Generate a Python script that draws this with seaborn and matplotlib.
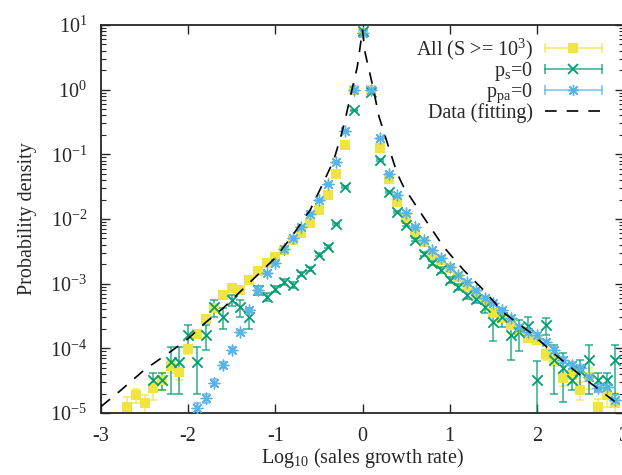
import numpy as np
import pandas as pd
import matplotlib
matplotlib.use('Agg')
import matplotlib.pyplot as plt
import seaborn as sns
from matplotlib.lines import Line2D
from matplotlib.legend_handler import HandlerBase
from matplotlib.ticker import LogLocator, NullFormatter, FixedLocator

# 数据：log10(增长率) 分箱，共用一组 x
bins = np.round(np.arange(-27, 30) / 10, 1)
nan = np.nan

# All (S >= 10^3)，log10 概率密度
all_log = [-4.90, -4.72, -4.84, -4.61, -4.49, -4.28, -4.36, -4.01,
           -3.78, -3.55, -3.37, -3.17, -3.07, -3.10, -2.95, -2.81, -2.68, -2.59,
           -2.48, -2.32, -2.21, -2.06, -1.86, -1.63, -1.30, -0.86, 0.00,
           0.88,
           0.00, -0.90, -1.38, -1.74, -1.98, -2.20, -2.35, -2.55, -2.63,
           -2.76, -2.89, -3.05, -3.17, -3.25, -3.45, -3.53, -3.64, -3.71, -3.84,
           -3.87, -4.09, -4.18, -4.46, -4.41, -4.64, -4.44, -4.90, -4.72, -4.84]
all_err = [0.4, 0.25, 0.3, 0.35, 0.3, 0.2, 0.25, 0.15,
           0.1, 0.1, 0.08, 0.06, 0.05, 0.05, 0.04, 0.04, 0.03, 0.03,
           0.02, 0.02, 0.02, 0.02, 0.02, 0.02, 0.02, 0.02, 0.02,
           0.01,
           0.02, 0.02, 0.02, 0.02, 0.02, 0.02, 0.02, 0.02, 0.02,
           0.03, 0.03, 0.04, 0.04, 0.05, 0.06, 0.06, 0.08, 0.1, 0.1,
           0.15, 0.2, 0.2, 0.25, 0.25, 0.3, 0.35, 0.3, 0.35, 0.4]

# p_s = 0
ps_log = [nan, nan, nan, -4.49, -4.49, -4.21, -4.21, -3.79,
          -4.21, -3.79, -3.36, -3.51, -3.25, -3.36, -3.51, -3.10, -3.20, -3.08,
          -2.97, -3.02, -2.85, -2.77, -2.55, -2.43, -2.08, -1.50, -0.32,
          0.90,
          -0.04, -1.09, -1.58, -1.89, -2.09, -2.32, -2.54, -2.68, -2.79,
          -2.94, -3.05, -3.17, -3.23, -3.36, -3.59, -3.51, -3.79, -3.74, -3.65,
          -4.49, -3.64, -4.18, -4.30, -4.49, -4.35, -4.18, -4.49, -4.49, -4.18]
ps_err = [nan, nan, nan, 0.3, 0.3, 0.68, 0.68, 0.42,
          0.68, 0.42, 0.3, 0.35, 0.2, 0.3, 0.35, 0.15, 0.15, 0.12,
          0.1, 0.1, 0.08, 0.08, 0.06, 0.05, 0.04, 0.03, 0.02,
          0.01,
          0.02, 0.03, 0.04, 0.05, 0.05, 0.06, 0.08, 0.08, 0.1,
          0.1, 0.12, 0.15, 0.15, 0.2, 0.5, 0.3, 0.6, 0.5, 0.35,
          0.95, 0.3, 0.7, 0.7, 0.3, 0.5, 0.7, 0.3, 0.3, 0.7]

# p_pa = 0
ppa_log = [nan, nan, nan, nan, nan, nan, nan, nan,
           -4.92, -4.77, -4.53, -4.26, -4.02, -3.74, -3.41, -3.10, -2.84, -2.68,
           -2.47, -2.29, -2.12, -1.92, -1.71, -1.46, -1.12, -0.64, 0.00,
           0.88,
           0.00, -0.75, -1.30, -1.63, -1.91, -2.12, -2.32, -2.48, -2.60,
           -2.74, -2.87, -2.97, -3.10, -3.22, -3.30, -3.40, -3.53, -3.67, -3.75,
           -3.79, -3.90, -4.02, -4.18, -4.26, -4.30, -4.44, -4.61, -4.60, -4.80]
ppa_err = [nan, nan, nan, nan, nan, nan, nan, nan,
           0.2, 0.15, 0.12, 0.1, 0.08, 0.06, 0.05, 0.05, 0.04, 0.04,
           0.03, 0.02, 0.02, 0.02, 0.02, 0.02, 0.02, 0.02, 0.02,
           0.01,
           0.02, 0.02, 0.02, 0.02, 0.02, 0.02, 0.02, 0.02, 0.02,
           0.03, 0.03, 0.03, 0.04, 0.04, 0.05, 0.05, 0.06, 0.06, 0.07,
           0.08, 0.08, 0.1, 0.1, 0.12, 0.12, 0.15, 0.15, 0.15, 0.2]

# 拟合曲线（从图上读取的节点）
fit_x = [-3.0, -2.8, -2.5, -2.2, -2.0, -1.8, -1.6, -1.4, -1.2, -1.0, -0.8,
         -0.6, -0.45, -0.33, -0.25, -0.2, -0.14, -0.06, 0.0, 0.03, 0.11,
         0.19, 0.3, 0.4, 0.47, 0.7, 0.93, 1.16, 1.39, 1.62, 1.93, 2.24,
         2.54, 2.95]
fit_log = [-4.90, -4.68, -4.33, -4.05, -3.85, -3.60, -3.38, -3.12, -2.86,
           -2.60, -2.25, -1.86, -1.44, -1.09, -0.73, -0.47, -0.11, 0.35,
           0.92, 0.57, 0.10, -0.42, -0.89, -1.30, -1.50, -1.97, -2.43,
           -2.79, -3.10, -3.45, -3.76, -4.13, -4.46, -4.88]

FS = 14.5

sns.set_style('ticks')
plt.rcParams['font.family'] = ['Liberation Serif', 'DejaVu Serif']
plt.rcParams['mathtext.default'] = 'regular'
plt.rcParams['axes.unicode_minus'] = False
plt.rcParams['xtick.direction'] = 'in'
plt.rcParams['ytick.direction'] = 'in'
plt.rcParams['xtick.top'] = True
plt.rcParams['ytick.right'] = True

fig = plt.figure(figsize=(6.22, 4.75), dpi=100)
ax = fig.add_axes([101 / 622, 1 - 413 / 475, 523 / 622, 388 / 475])

series = [
    ('All (S >= 10$^3$)', all_log, all_err, '#F0E442', 's', 55, 0),
    ('$p_{s}$=0', ps_log, ps_err, '#009E73', 'x', 55, 1.3),
    ('$p_{pa}$=0', ppa_log, ppa_err, '#56B4E9', (8, 2, 0), 60, 1.0),
]

for label, logv, rel, color, marker, size, lw in series:
    df = pd.DataFrame({'x': bins, 'p': 10 ** np.array(logv), 'rel': rel}).dropna()
    ax.errorbar(df['x'], df['p'], yerr=df['p'] * df['rel'], fmt='none',
                ecolor=color, alpha=0.75, elinewidth=1.2, capsize=3, capthick=1.2)
    if marker == 's':
        sns.scatterplot(data=df, x='x', y='p', ax=ax, color=color, marker=marker,
                        s=size, linewidth=0, legend=False, zorder=3)
    else:
        sns.scatterplot(data=df, x='x', y='p', ax=ax, color=color, marker=marker,
                        s=size, linewidth=lw, edgecolor=color, legend=False, zorder=3)

fit_df = pd.DataFrame({'x': fit_x, 'p': 10 ** np.array(fit_log)})
sns.lineplot(data=fit_df, x='x', y='p', ax=ax, color='black', lw=1.2,
             dashes=False, sort=False, zorder=4).lines[-1].set_dashes((7, 6))

ax.set_yscale('log')
ax.set_xlim(-3, 3)
ax.set_ylim(1e-5, 10)
ax.xaxis.set_major_locator(FixedLocator([-3, -2, -1, 0, 1, 2, 3]))
ax.yaxis.set_major_locator(LogLocator(base=10, numticks=10))
ax.yaxis.set_minor_locator(LogLocator(base=10, subs=np.arange(2, 10), numticks=10))
ax.yaxis.set_minor_formatter(NullFormatter())
ax.tick_params(which='major', length=6.5, width=1, labelsize=FS)
ax.tick_params(axis='x', which='major', pad=10)
ax.tick_params(axis='y', which='major', pad=10)
ax.tick_params(which='minor', length=3.5, width=0.8)
for sp in ax.spines.values():
    sp.set_linewidth(1.3)
ax.set_xlabel('Log$_{10}$ (sales growth rate)', fontsize=FS, labelpad=0)
ax.set_ylabel('Probability density', fontsize=FS, labelpad=9)


# 图例：水平误差棒样式
class HBarHandler(HandlerBase):
    def create_artists(self, legend, orig_handle, xdescent, ydescent, width,
                       height, fontsize, trans):
        c, mk, ms, mlw = orig_handle
        y = height / 2 - ydescent
        x0, x1 = -xdescent, width - xdescent
        line = Line2D([x0, x1], [y, y], color=c, lw=1.2, alpha=0.75)
        caps = Line2D([x0, x1], [y, y], ls='none', marker='|', ms=7,
                      mew=1.2, color=c, alpha=0.75)
        dot = Line2D([(x0 + x1) / 2], [y], ls='none', marker=mk, ms=ms,
                     mew=mlw, color=c, markeredgecolor=c)
        arts = [line, caps, dot]
        for a in arts:
            a.set_transform(trans)
        return arts


handles = [('#F0E442', 's', 7.5, 0), ('#009E73', 'x', 7, 1.3),
           ('#56B4E9', (8, 2, 0), 8, 1.0)]
fit_handle = Line2D([], [], color='black', lw=1.2, dashes=(7, 6))
labels = [s[0] for s in series] + ['Data (fitting)']
leg = ax.legend(handles + [fit_handle], labels,
                handler_map={tuple: HBarHandler()},
                loc='upper right', bbox_to_anchor=(602 / 622, 1 - 37 / 475),
                bbox_transform=fig.transFigure, frameon=False, markerfirst=False,
                fontsize=FS, handlelength=2.85, handletextpad=0.6,
                handleheight=0.5, labelspacing=-0.1, borderaxespad=0, borderpad=0)
for t in leg.get_texts():
    t.set_ha('right')

fig.savefig('out.png', dpi=100)
